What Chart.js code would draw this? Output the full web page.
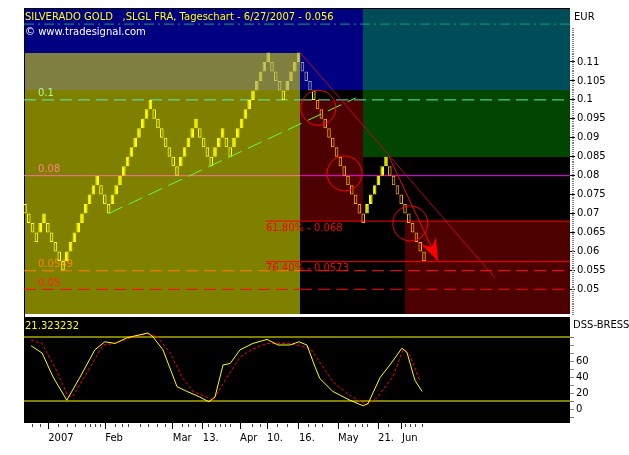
<!DOCTYPE html>
<html>
<head>
<meta charset="utf-8">
<script src="https://cdn.jsdelivr.net/npm/chart.js@4.4.0/dist/chart.umd.min.js"></script>
<style>
html, body { margin: 0; padding: 0; background: #fff; }
canvas { display: block; }
</style>
</head>
<body>
<canvas id="chart" width="629" height="455"></canvas>
<script>
// Renko-Steine: Unterkante jedes Steins, eine Spalte pro Stein
var brickSize = 0.0025;
var brickLow = [
    0.07, 0.0675, 0.065, 0.0625, 0.065, 0.0675, 0.065, 0.0625, 0.06, 0.0575, 0.055,
    0.0575, 0.06, 0.0625, 0.065, 0.0675, 0.07, 0.0725, 0.075, 0.0775,
    0.075, 0.0725, 0.07,
    0.0725, 0.075, 0.0775, 0.08, 0.0825, 0.085, 0.0875, 0.09, 0.0925, 0.095, 0.0975,
    0.095, 0.0925, 0.09, 0.0875, 0.085, 0.0825, 0.08,
    0.0825, 0.085, 0.0875, 0.09, 0.0925,
    0.09, 0.0875, 0.085, 0.0825,
    0.085, 0.0875, 0.09,
    0.0875, 0.085,
    0.0875, 0.09, 0.0925, 0.095, 0.0975, 0.1, 0.1025, 0.105, 0.1075, 0.11,
    0.1075, 0.105, 0.1025, 0.1,
    0.1025, 0.105, 0.1075, 0.11,
    0.1075, 0.105, 0.1025, 0.1, 0.0975, 0.095, 0.0925, 0.09, 0.0875, 0.085, 0.0825, 0.08, 0.0775, 0.075, 0.0725, 0.07, 0.0675,
    0.07, 0.0725, 0.075, 0.0775, 0.08, 0.0825,
    0.08, 0.0775, 0.075, 0.0725, 0.07, 0.0675, 0.065, 0.0625, 0.06, 0.0575
];

// DSS-Bressert (gelb) und Signal (rot gestrichelt): Spalte / Wert
var dssX = [1.6, 4.5, 7.4, 11.0, 14.5, 18.4, 21.0, 23.7, 26.8, 29.5, 32.4, 33.7, 36.3, 40.0, 42.6, 46.0, 48.4, 50.0, 52.1, 54.0,
    56.6, 60.0, 63.7, 66.6, 69.7, 72.1, 74.2, 76.3, 77.6, 81.0, 85.5, 89.0, 90.3, 93.4, 96.0, 99.2, 100.5, 102.6, 104.5];
var dssY = [79, 70, 40, 11, 40, 74, 84, 82, 89, 92, 95, 90, 74, 28, 22, 15, 9, 15, 55, 57,
    74, 82, 87, 80, 80, 84, 80, 53, 38, 22, 11, 4, 7, 39, 55, 76, 71, 36, 22];
var sigX = [1.6, 4.5, 8.4, 11.3, 12.6, 16.3, 20.5, 23.7, 28.4, 32.1, 34.7, 38.2, 41.3, 44.2, 48.2, 49.5, 53.2, 56.6, 60.0, 63.7,
    69.7, 75.0, 76.8, 81.0, 85.5, 90.0, 92.6, 96.8, 99.5, 101.3, 104.0];
var sigY = [86, 82, 47, 16, 16, 45, 80, 82, 90, 94, 91, 70, 40, 22, 14, 11, 40, 65, 75, 82,
    82, 76, 64, 34, 17, 5, 14, 40, 74, 67, 34];
var oscLevels = [90, 10];

// Zeitachse (Spalte des Steins)
var timeTickPos = [6.1, 21.1, 38.9, 46.8, 56.6, 63.7, 72.1, 82.4, 92.9, 99.2];
var timeTickLabels = ['2007', 'Feb', 'Mar', '13.', 'Apr', '10.', '16.', 'May', '21.', 'Jun'];
var dayTickPos = [1.8, 4.0, 8.8, 11.0, 13.2, 15.8, 17.1, 18.4, 19.7, 23.7, 25.4, 27.2, 30.3, 32.4, 34.7, 36.8,
    41.2, 43.0, 44.7, 48.2, 50.0, 51.3, 52.6, 53.9, 59.7, 61.8, 66.2, 68.9, 74.6, 76.3, 78.1,
    85.1, 86.8, 88.6, 89.9, 95.6, 100.0, 101.3, 102.6, 104.4];

// Kursachse und Oszillatorachse
var priceTicks = [0.05, 0.055, 0.06, 0.065, 0.07, 0.075, 0.08, 0.085, 0.09, 0.095, 0.1, 0.105, 0.11];
var oscTicks = [-10, 0, 10, 20, 30, 40, 50, 60, 70, 80, 90];
var oscTickLabels = ['', '0', '', '20', '', '40', '', '60', '', '', ''];

// horizontale Linien
var levelValues = [0.12, 0.1, 0.08, 0.0549, 0.05];
var levelLabels = ['', '0.1', '0.08', '0.0549', '0.05'];
var fibValues = [0.068, 0.0573];
var fibLabels = ['61.80% - 0.068', '76.40% - 0.0573'];
var fibStart = 63.4;

// Trendlinien: Spalte, Kurs, Spalte, Kurs
var supportLine = [22, 0.07, 87, 0.1005];
var resistLine = [72.4, 0.1125, 123.7, 0.053];
var arrowLine = [95.8, 0.085, 108.7, 0.0575];

// Kreise
var circleX = [77.2, 84.1, 101.4];
var circleY = [0.0979, 0.0806, 0.0674];

// Hintergrundzonen: Spalte von/bis, Kurs von/bis (null = Rand)
var zones = [
    [null, 72.4, 0.1125, null],
    [null, 72.4, 0.1025, 0.1125],
    [null, 72.4, null, 0.1025],
    [72.4, 88.9, 0.1025, null],
    [72.4, 88.9, 0.068, 0.1],
    [88.9, null, 0.1025, null],
    [88.9, null, 0.085, 0.1025],
    [100, null, null, 0.068]
];
var zoneColors = ['#000080', '#7f7f40', '#808000', '#000080', '#4d0000', '#004c58', '#004600', '#4d0000'];

var titleText = 'SILVERADO GOLD   ,SLGL FRA, Tageschart - 6/27/2007 - 0.056';

// Achsenbereiche
var xMin = -0.26, xMax = 143.42;
var yMin = 0.0427, yMax = 0.12425;
var oscMin = -17.5, oscMax = 115;

var levelColors = ['#00a878', '#50f0b8', '#ff00ff', '#ff2020', '#ff0000'];
var levelLeftColors = ['#00a878', '#50f0b8', '#ff6fa0', '#ff8000', '#ff0000'];
var levelDash = [[10, 4, 2, 4], [12, 6], [], [12, 6], [12, 6]];
var levelTextColors = ['', '#a0ff90', '#ff8080', '#ff8000', '#ff2020'];

Chart.defaults.font.family = "'DejaVu Sans', sans-serif";
Chart.defaults.font.size = 10;
Chart.defaults.color = '#000';

// Farben der Steine
var brickFill = [], brickLine = [];
brickLow.forEach(function (lo, i) {
    var up = i > 0 && lo > brickLow[i - 1];
    var col = '#ffff00';
    if (lo >= 0.1025 && i <= 72) col = '#c8c850';
    else if (lo >= 0.1025) col = '#9898a8';
    else if (!up && i > 76) col = '#ffa500';
    brickLine.push(col);
    brickFill.push(up ? col : 'rgba(0,0,0,0)');
});

function seg(x1, y1, x2, y2) {
    return [{ x: x1, y: y1 }, { x: x2, y: y2 }];
}

// feste Achsengrößen, kein automatischer Rand
function fixVertical(s) {
    s.width = 59;
    s.paddingTop = 0;
    s.paddingBottom = 0;
}

var datasets = [];

datasets.push({
    type: 'bar',
    yAxisID: 'y',
    order: 5,
    data: brickLow.map(function (lo, i) { return { x: i, y: [lo, lo + brickSize] }; }),
    backgroundColor: brickFill,
    borderColor: brickLine,
    borderWidth: 1,
    borderSkipped: false,
    barPercentage: 0.95,
    categoryPercentage: 1
});

// Kurslinien, links und rechts der Zeitzone
levelValues.forEach(function (v, i) {
    datasets.push({
        type: 'line', yAxisID: 'y', order: 10,
        data: seg(xMin, v, 72.4, v),
        borderColor: levelLeftColors[i], borderDash: levelDash[i], borderWidth: 1, pointRadius: 0
    });
    datasets.push({
        type: 'line', yAxisID: 'y', order: 10,
        data: seg(72.4, v, xMax, v),
        borderColor: levelColors[i], borderDash: levelDash[i], borderWidth: 1, pointRadius: 0
    });
});

fibValues.forEach(function (v) {
    datasets.push({
        type: 'line', yAxisID: 'y', order: 9,
        data: seg(fibStart, v, xMax, v),
        borderColor: '#ff0000', borderWidth: 1, pointRadius: 0
    });
});

datasets.push({
    type: 'line', yAxisID: 'y', order: 2,
    data: seg(supportLine[0], supportLine[1], supportLine[2], supportLine[3]),
    borderColor: '#66ff22', borderDash: [15, 7], borderWidth: 1, pointRadius: 0
});
datasets.push({
    type: 'line', yAxisID: 'y', order: 2,
    data: seg(resistLine[0], resistLine[1], resistLine[2], resistLine[3]),
    borderColor: 'rgba(235,0,40,0.8)', borderWidth: 1, pointRadius: 0
});
datasets.push({
    type: 'line', yAxisID: 'y', order: 2,
    data: seg(arrowLine[0], arrowLine[1], arrowLine[2], arrowLine[3]),
    borderColor: '#ff0000', borderWidth: 1, pointRadius: 0
});
datasets.push({
    type: 'line', yAxisID: 'y', order: 1, showLine: false,
    data: circleX.map(function (x, i) { return { x: x, y: circleY[i] }; }),
    pointRadius: 17.5, pointBorderColor: '#ff0000', pointBackgroundColor: 'rgba(0,0,0,0)', pointBorderWidth: 1
});

// Oszillator
oscLevels.forEach(function (v) {
    datasets.push({
        type: 'line', yAxisID: 'y2', order: 10,
        data: seg(xMin, v, xMax, v),
        borderColor: '#ffff00', borderWidth: 1, pointRadius: 0
    });
});
datasets.push({
    type: 'line', yAxisID: 'y2', order: 3,
    data: sigX.map(function (x, i) { return { x: x, y: sigY[i] }; }),
    borderColor: '#ff0000', borderDash: [3, 2], borderWidth: 1, pointRadius: 0
});
datasets.push({
    type: 'line', yAxisID: 'y2', order: 2,
    data: dssX.map(function (x, i) { return { x: x, y: dssY[i] }; }),
    borderColor: '#ffff00', borderWidth: 1, pointRadius: 0
});

var panels = {
    id: 'panels',
    beforeDatasetsDraw: function (chart) {
        var ctx = chart.ctx, a = chart.chartArea;
        var xs = chart.scales.x, ys = chart.scales.y, ys2 = chart.scales.y2;
        var top = ys.top, bottom = ys.bottom - 3;
        ctx.save();
        ctx.fillStyle = '#000';
        ctx.fillRect(a.left, top, a.right - a.left, bottom - top);
        zones.forEach(function (z, i) {
            var x0 = z[0] === null ? a.left : Math.round(xs.getPixelForValue(z[0]));
            var x1 = z[1] === null ? a.right : Math.round(xs.getPixelForValue(z[1]));
            var y0 = z[2] === null ? bottom : Math.round(ys.getPixelForValue(z[2]));
            var y1 = z[3] === null ? top : Math.round(ys.getPixelForValue(z[3]));
            ctx.fillStyle = zoneColors[i];
            ctx.fillRect(x0, y1, x1 - x0, Math.min(y0, bottom) - y1);
        });
        ctx.fillStyle = '#fff';
        ctx.fillRect(a.left, bottom, a.right - a.left, ys.bottom - bottom);
        ctx.fillStyle = '#000';
        ctx.fillRect(a.left, ys2.top, a.right - a.left, ys2.bottom - ys2.top);
        ctx.fillRect(a.left, top, 1, ys2.bottom - top);
        ctx.fillRect(a.left, top, a.right - a.left, 1);

        // Beschriftung der Kurslinien
        ctx.font = "10px 'DejaVu Sans'";
        ctx.textBaseline = 'bottom';
        levelValues.forEach(function (v, i) {
            if (!levelLabels[i]) return;
            ctx.fillStyle = levelTextColors[i];
            ctx.fillText(levelLabels[i], a.left + 14, ys.getPixelForValue(v) - 1);
        });
        ctx.textBaseline = 'top';
        ctx.fillStyle = '#ff0000';
        fibValues.forEach(function (v, i) {
            ctx.fillText(fibLabels[i], xs.getPixelForValue(fibStart), ys.getPixelForValue(v) + 2);
        });
        ctx.restore();
    },
    afterDatasetsDraw: function (chart) {
        var ctx = chart.ctx, a = chart.chartArea;
        var xs = chart.scales.x, ys = chart.scales.y, ys2 = chart.scales.y2;
        ctx.save();
        // Pfeilspitze
        var x1 = xs.getPixelForValue(arrowLine[0]), y1 = ys.getPixelForValue(arrowLine[1]);
        var x2 = xs.getPixelForValue(arrowLine[2]), y2 = ys.getPixelForValue(arrowLine[3]);
        var len = Math.hypot(x2 - x1, y2 - y1), dx = (x2 - x1) / len, dy = (y2 - y1) / len;
        ctx.fillStyle = '#ff0000';
        ctx.beginPath();
        ctx.moveTo(x2, y2);
        ctx.lineTo(x2 - 22 * dx + 8 * dy, y2 - 22 * dy - 8 * dx);
        ctx.lineTo(x2 - 15 * dx, y2 - 15 * dy);
        ctx.lineTo(x2 - 22 * dx - 8 * dy, y2 - 22 * dy + 8 * dx);
        ctx.closePath();
        ctx.fill();

        ctx.font = "10px 'DejaVu Sans'";
        ctx.textBaseline = 'middle';
        ctx.fillStyle = '#ffff00';
        ctx.fillText(titleText, a.left + 1, ys.top + 9);
        ctx.fillStyle = '#fff';
        ctx.fillText('\u00a9 www.tradesignal.com', a.left + 1, ys.top + 24);
        ctx.fillStyle = '#ffff00';
        ctx.fillText('21.323232', a.left + 1, ys2.top + 9);
        ctx.fillStyle = '#000';
        ctx.fillText('EUR', a.right + 4, ys.top + 9);
        ctx.fillText('DSS-BRESSERT', a.right + 3, ys2.top + 8);

        // kleine Teilstriche der Kursachse
        ctx.fillStyle = '#808080';
        for (var k = 87; k <= 238; k++) {
            var py = Math.round(ys.getPixelForValue(k * 0.0005));
            ctx.fillRect(a.right + 2, py, 2, 1);
        }
        // Tagesstriche der Zeitachse
        ctx.fillStyle = '#404040';
        dayTickPos.forEach(function (c) {
            ctx.fillRect(Math.round(xs.getPixelForValue(c)), a.bottom + 1, 1, 3);
        });
        ctx.restore();
    }
};

new Chart(document.getElementById('chart'), {
    type: 'bar',
    data: { datasets: datasets },
    plugins: [panels],
    options: {
        responsive: false,
        animation: false,
        devicePixelRatio: 1,
        layout: { autoPadding: false, padding: { left: 24, top: 8, right: 0, bottom: 0 } },
        plugins: { legend: { display: false }, tooltip: { enabled: false } },
        scales: {
            x: {
                type: 'linear', min: xMin, max: xMax, offset: false,
                afterBuildTicks: function (s) { s.ticks = timeTickPos.map(function (v) { return { value: v }; }); },
                afterFit: function (s) { s.height = 32; s.paddingLeft = 0; s.paddingRight = 0; },
                ticks: {
                    autoSkip: false, maxRotation: 0, align: 'start', padding: 3, color: '#000',
                    callback: function (v, i) { return timeTickLabels[i]; }
                },
                grid: { drawOnChartArea: false, tickLength: 6, tickColor: '#000', offset: false },
                border: { display: false }
            },
            y: {
                type: 'linear', position: 'right', stack: 'panes', stackWeight: 309,
                min: yMin, max: yMax,
                afterBuildTicks: function (s) { s.ticks = priceTicks.map(function (v) { return { value: v }; }); },
                afterFit: fixVertical,
                ticks: { autoSkip: false, padding: 2, color: '#000', callback: function (v) { return String(+v.toFixed(4)); } },
                grid: { drawOnChartArea: false, tickLength: 5, tickColor: '#000' },
                border: { display: false }
            },
            y2: {
                type: 'linear', position: 'right', stack: 'panes', stackWeight: 106,
                min: oscMin, max: oscMax,
                afterBuildTicks: function (s) { s.ticks = oscTicks.map(function (v) { return { value: v }; }); },
                afterFit: fixVertical,
                ticks: { autoSkip: false, padding: 2, color: '#000', callback: function (v, i) { return oscTickLabels[i]; } },
                grid: { drawOnChartArea: false, tickLength: 4, tickColor: '#808080' },
                border: { display: false }
            }
        }
    }
});
</script>
</body>
</html>
